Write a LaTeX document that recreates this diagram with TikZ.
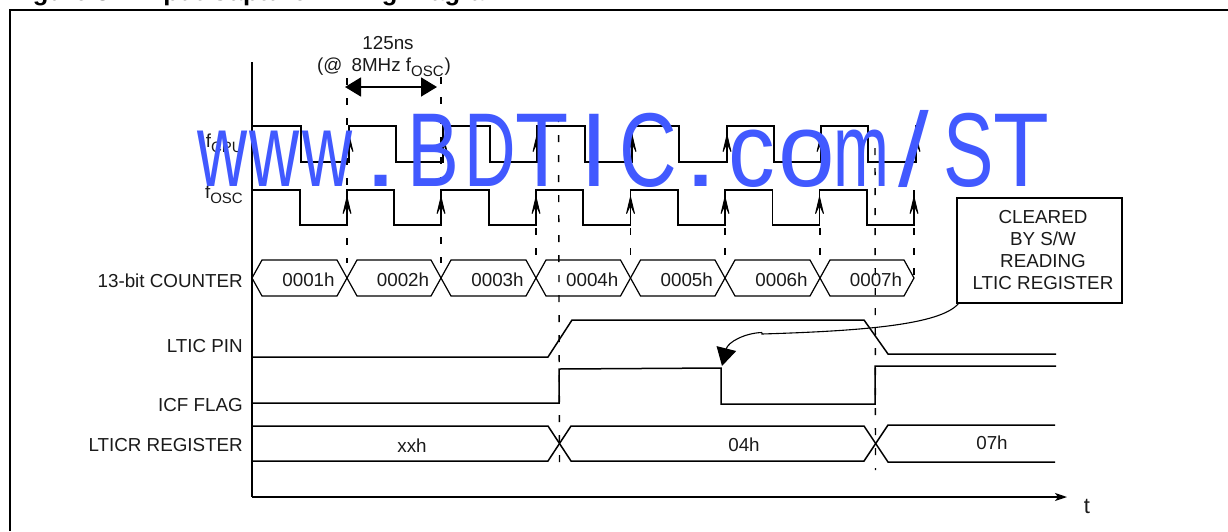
\documentclass[tikz,border=0pt]{standalone}
\usepackage{fontspec}
\setmainfont{Liberation Sans}
\usetikzlibrary{arrows.meta,calc}
\definecolor{inkc}{HTML}{1A1A1A}
\definecolor{markc}{HTML}{4159FF}
\tikzset{
  wave/.style={line width=1.5pt,black,line join=miter},
  thinwave/.style={line width=1.2pt,black},
  frameline/.style={line width=2pt,black},
  axisline/.style={line width=1.6pt,black},
  guide/.style={line width=1.4pt,black,dash pattern=on 7pt off 13pt},
  edgearrow/.style={line width=.9pt,black,-{Stealth[length=23pt,width=11pt,inset=12pt]}},
  lab/.style={font=\fontsize{18.8}{22}\selectfont,text=inkc,inner sep=0pt},
  rlab/.style={lab,anchor=base east},
  clab/.style={lab,anchor=base},
  tag/.style={draw=black,line width=1.6pt,inner sep=0pt,minimum width=165pt,minimum height=105pt},
  tagtext/.style={align=center,inner sep=0pt,font=\fontsize{18.8}{21.7}\selectfont,text=inkc},
}
\newcommand{\hexa}[3]{\draw[thinwave] (#1,278)--(#1+10,260)--(#2-10,260)--(#2,278)--(#2-10,296)--(#1+10,296)--cycle;
  \node[clab] (#3) at ({(#1+#2)/2+9},286) {#3};}
\newcommand{\subt}[1]{\raisebox{-5pt}{\fontsize{15}{16}\selectfont #1}}
\newcommand{\gl}[3]{\makebox[#1pt][l]{\scalebox{#2}[1]{#3}}}
\begin{document}
\begin{tikzpicture}[x=1pt,y=-1pt]
\useasboundingbox (0,0) rectangle (1228,531);
\fill[white] (0,0) rectangle (1228,531);
% title cut by the page edge
\node[anchor=base west,inner sep=0pt,font=\bfseries\fontsize{25.6}{28}\selectfont] (title) at (10,0) {Figure 32. Input Capture Timing Diagram};
% frame
\draw[frameline] (9.5,531) -- (9.5,10) -- (1228,10);
% axes
\coordinate (org) at (252,497);
\coordinate (ytop) at (252,62);
\coordinate (tend) at (1067,497);
\draw[axisline] (ytop) -- (org);
\draw[axisline,-{Stealth[length=12pt,width=8pt,inset=3pt]}] (org) -- (tend);
\node[lab,anchor=base,font=\fontsize{22}{24}\selectfont] (tlab) at (1087,513) {t};
% guides
\foreach \x/\a/\b in {347/78/263,441/77/263,536/228/263,630.5/228/263,725/228/263,820/228/263,914/228/285}
  \draw[guide] (\x,\a) -- (\x,\b);
\draw[guide] (558.5,115) -- (559.5,470);
\draw[guide] (875,148) -- (875.5,470);
% fCPU
\draw[wave] (252,126)-|(301,162)-|(349,126)-|(396,162)-|(443,126)-|(490,162)-|(537,126)-|(585,162)-|(632,126)-|(679,162)-|(727,126)-|(774,162)-|(821,126)-|(868,162)-|(916,125);
% fOSC
\draw[wave] (252,190)-|(300,225)-|(347,190)-|(394,225)-|(441,190)-|(489,225)-|(536,190)-|(583,225)-|(630.5,190)-|(678,225)-|(725,190)-|(772.5,225)-|(819.5,190)-|(867,225)-|(914,190);
% edge arrows
\foreach \x in {349,443,537,632,727,821,916}
  \draw[edgearrow] (\x,160) -- (\x,133);
\foreach \x in {347,441,536,630.5,725,819.5,914}
  \draw[edgearrow] (\x,224) -- (\x,195);
% period
\coordinate (pa) at (345,87);
\coordinate (pb) at (437,87);
\draw[line width=1.6pt,{Triangle[length=16pt,width=19pt]}-{Triangle[length=16pt,width=19pt]}] (pa) -- (pb);
\node[clab] (period) at (388,49) {125ns};
\node[clab] (rate) at (384,71.5) {(@\hspace{4pt} 8MHz f\subt{OSC}\hspace{1pt})};
% counter
\hexa{252}{347}{0001h}
\hexa{347}{441}{0002h}
\hexa{441}{536}{0003h}
\hexa{536}{630.5}{0004h}
\hexa{630.5}{725}{0005h}
\hexa{725}{820}{0006h}
\hexa{820}{914}{0007h}
% LTIC
\draw[wave] (252,357)--(548,357)--(572,320)--(864,320)--(888,354)--(1056,354);
% ICF
\draw[wave] (252,403)--(559,403)--(559,369)--(721,368)--(721,404)--(875,404)--(875,366)--(1056,366);
% register
\draw[wave] (252,426)--(548,426)--(571,461)--(864,461)--(888,425)--(1055,425);
\draw[wave] (252,461)--(548,461)--(571,426)--(864,426)--(888,462)--(1055,462);
\node[clab] (xxh) at (412,452) {xxh};
\node[clab] (h04) at (744,451.5) {04h};
\node[clab] (h07) at (992,449.5) {07h};
% labels
\node[rlab] (lcpu) at (243,147) {f\subt{CPU}};
\node[rlab] (losc) at (243,198) {f\subt{OSC}};
\node[rlab] (lcnt) at (243,287) {13-bit COUNTER};
\node[rlab] (lpin) at (243,352) {LTIC PIN};
\node[rlab] (lflag) at (243,411) {ICF FLAG};
\node[rlab] (lreg) at (243,451) {LTICR REGISTER};
% box
\node[tag] (note) at (1039.5,250.5) {};
\node[tagtext] (notetext) at (1043,250) {CLEARED\\BY S/W\\READING\\LTIC REGISTER};
\coordinate (bend) at (762,334);
\coordinate (bendb) at (762,332.5);
\coordinate (flag) at (722,366);
\draw[line width=1.1pt] ($(note.south west)+(2,0)$) .. controls (940,325) and (860,331) .. (bend) -- (bendb);
\draw[line width=1.1pt,-{Triangle[length=18pt,width=20pt]}] (bendb) .. controls (745,333) and (728,342) .. (flag);
% watermark
\node[anchor=base west,inner sep=0pt,text=markc,font=\fontsize{105}{110}\selectfont] (mark) at (197,186) {\gl{52}{.66}{w}\gl{53}{.66}{w}\gl{61}{.66}{w}\gl{44}{1.2}{.}\gl{57.5}{.74}{B}\gl{50.5}{.68}{D}\gl{65}{.83}{T}\gl{39}{.95}{I}\gl{64}{.76}{C}\gl{45}{1.2}{.}\gl{50.5}{.89}{c}\gl{55}{.97}{o}\gl{64.4}{.64}{m}\gl{45.6}{1.05}{/}\gl{49.4}{.72}{S}\gl{60}{.87}{T}};
\end{tikzpicture}
\end{document}
